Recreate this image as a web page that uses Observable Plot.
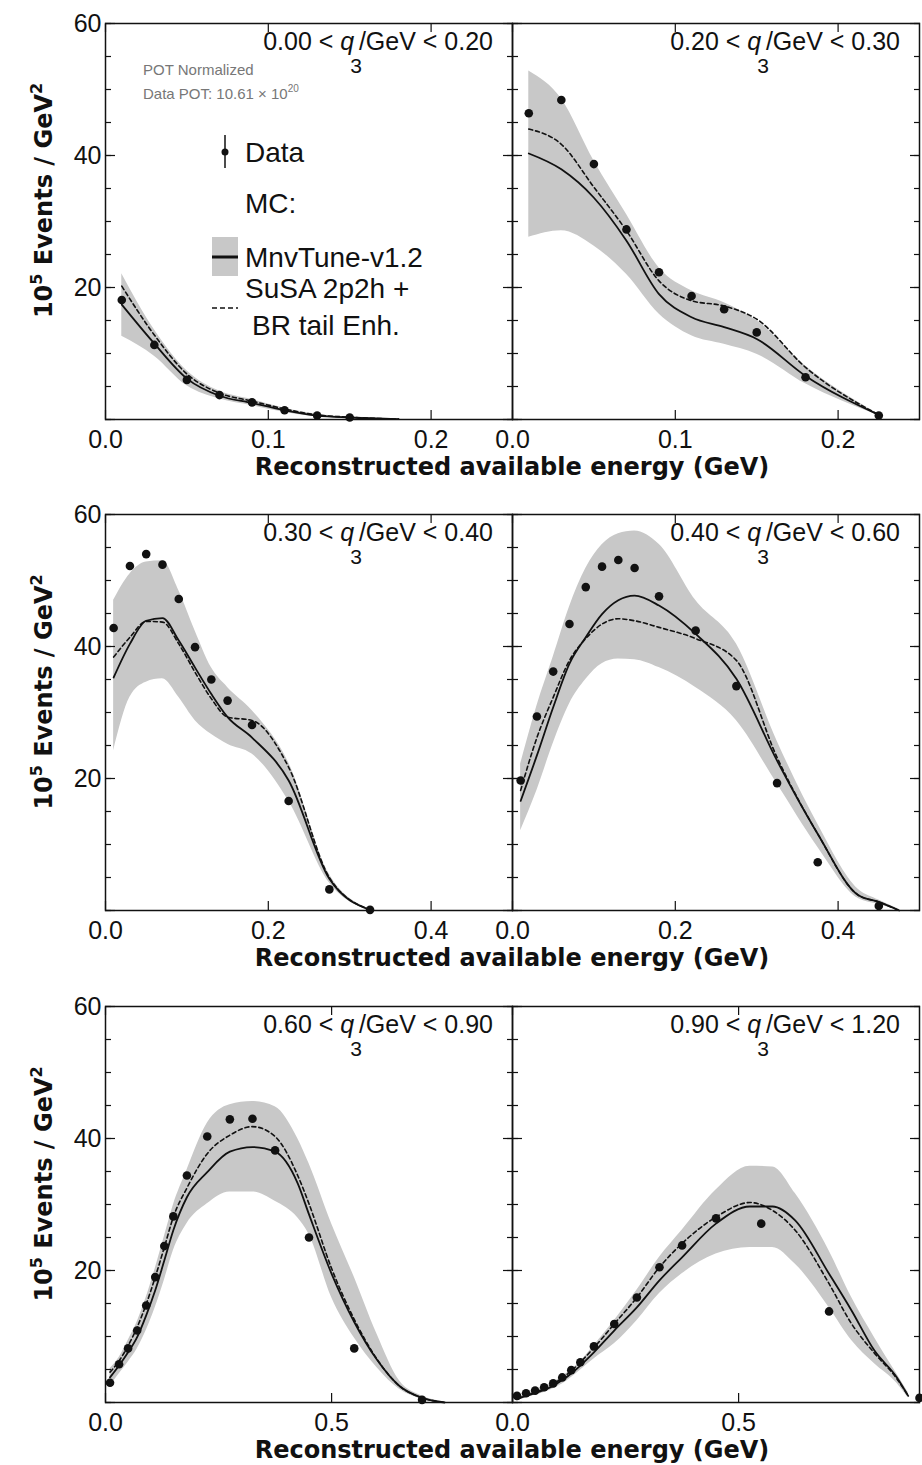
<!DOCTYPE html>
<html><head><meta charset="utf-8">
<script src="https://cdn.jsdelivr.net/npm/d3@7"></script>
<script src="https://cdn.jsdelivr.net/npm/@observablehq/plot@0.6"></script>
<style>
html,body{margin:0;padding:0;background:#fff;}
#chart{position:relative;width:922px;height:1465px;overflow:hidden;background:#fff;}
#chart svg{position:absolute;}
</style></head><body><div id="chart"></div>
<script>
// ---------- q3 bins ----------
const qLow  = ["0.00","0.20","0.30","0.40","0.60","0.90"];
const qHigh = ["0.20","0.30","0.40","0.60","0.90","1.20"];
const xMax  = [0.25, 0.25, 0.5, 0.5, 0.9, 0.9];
const xTickRow = [[0, 0.1, 0.2], [0, 0.2, 0.4], [0, 0.5]];
const yMinorTicks = [0,5,10,15,20,25,30,35,40,45,50,55,60];
const yMajorTicks = [0,20,40,60];
const yLabelTicks = [20,40,60];

// ---------- panel 1: 0.00 < q3 < 0.20 ----------
const p1DataX = [0.01,0.03,0.05,0.07,0.09,0.11,0.13,0.15];
const p1Data  = [18.1,11.3,6.0,3.7,2.6,1.4,0.6,0.3];
const p1McX   = [0.01,0.03,0.05,0.07,0.09,0.11,0.13,0.15,0.18];
const p1Mc    = [17.4,11.5,6.2,3.6,2.5,1.4,0.6,0.3,0.05];
const p1Susa  = [20.2,12.8,6.9,4.0,2.8,1.6,0.7,0.35,0.05];
const p1Hi    = [22.1,13.6,7.4,4.3,3.0,1.7,0.8,0.4,0.1];
const p1Lo    = [12.6,9.6,5.1,3.1,2.1,1.1,0.4,0.2,0.0];

// ---------- panel 2: 0.20 < q3 < 0.30 ----------
const p2DataX = [0.01,0.03,0.05,0.07,0.09,0.11,0.13,0.15,0.18,0.225];
const p2Data  = [46.4,48.4,38.7,28.8,22.3,18.7,16.7,13.2,6.4,0.6];
const p2McX   = [0.01,0.03,0.05,0.07,0.09,0.11,0.13,0.15,0.18,0.225];
const p2Mc    = [40.3,37.9,33.6,27.1,19.0,15.5,14.0,12.2,6.6,0.7];
const p2Susa  = [44.0,41.7,35.2,28.6,21.0,18.0,17.2,15.2,7.9,0.7];
const p2Hi    = [52.8,48.6,39.2,31.1,23.0,19.5,17.7,15.0,8.1,0.8];
const p2Lo    = [27.6,28.6,26.3,22.0,16.0,12.7,11.4,9.9,5.4,0.6];

// ---------- panel 3: 0.30 < q3 < 0.40 ----------
const p3DataX = [0.01,0.03,0.05,0.07,0.09,0.11,0.13,0.15,0.18,0.225,0.275,0.325];
const p3Data  = [42.8,52.2,54.0,52.4,47.2,39.9,35.0,31.8,28.1,16.6,3.2,0.1];
const p3McX   = [0.01,0.03,0.05,0.07,0.09,0.11,0.13,0.15,0.18,0.225,0.275,0.325];
const p3Mc    = [35.3,40.4,43.9,44.3,40.9,36.8,32.8,29.3,26.2,19.7,4.8,0.1];
const p3Susa  = [38.4,41.4,43.8,43.7,40.4,36.1,32.1,29.3,28.8,21.7,5.0,0.1];
const p3Hi    = [47.0,51.0,52.8,53.0,48.5,42.4,36.8,33.8,30.3,22.4,5.5,0.2];
const p3Lo    = [24.2,32.3,34.6,35.1,32.3,28.8,26.7,25.2,23.7,16.6,4.2,0.0];

// ---------- panel 4: 0.40 < q3 < 0.60 ----------
const p4DataX = [0.01,0.03,0.05,0.07,0.09,0.11,0.13,0.15,0.18,0.225,0.275,0.325,0.375,0.45];
const p4Data  = [19.7,29.4,36.2,43.4,49.0,52.1,53.1,51.9,47.6,42.4,34.0,19.3,7.3,0.7];
const p4McX   = [0.01,0.03,0.05,0.07,0.09,0.11,0.13,0.15,0.18,0.225,0.275,0.325,0.375,0.425,0.45,0.475];
const p4Mc    = [16.6,23.5,30.8,37.4,41.4,44.9,47.0,47.7,46.2,41.9,35.1,22.7,11.6,2.3,1.3,0.0];
const p4Susa  = [18.2,26.2,32.3,37.9,41.2,43.4,44.2,43.9,42.9,41.2,37.9,23.2,11.6,2.3,1.3,0.0];
const p4Hi    = [22.2,31.0,38.4,46.0,51.8,55.4,57.1,57.5,55.5,47.0,40.4,25.7,13.1,3.2,1.6,0.2];
const p4Lo    = [12.1,18.2,25.3,31.3,35.0,37.4,38.1,38.0,36.8,33.8,28.8,19.2,9.6,1.8,0.9,0.0];

// ---------- panel 5: 0.60 < q3 < 0.90 ----------
const p5DataX = [0.01,0.03,0.05,0.07,0.09,0.11,0.13,0.15,0.18,0.225,0.275,0.325,0.375,0.45,0.55,0.7];
const p5Data  = [3.0,5.8,8.2,10.9,14.7,19.0,23.7,28.2,34.4,40.3,42.9,43.0,38.2,25.0,8.2,0.4];
const p5McX   = [0.01,0.03,0.05,0.07,0.09,0.11,0.13,0.15,0.18,0.225,0.275,0.325,0.375,0.425,0.45,0.5,0.55,0.6,0.65,0.7,0.75];
const p5Mc    = [3.8,5.6,7.6,9.9,13.2,17.0,21.5,26.1,31.1,34.9,38.0,38.7,38.0,33.2,28.5,19.5,12.2,6.5,2.5,0.7,0.0];
const p5Susa  = [4.6,6.3,8.6,11.4,14.9,19.0,23.5,28.1,32.5,37.7,40.5,41.8,40.3,34.4,30.1,20.3,12.6,6.6,2.5,0.7,0.0];
const p5Hi    = [5.1,6.8,9.4,12.2,15.9,20.3,25.1,29.9,35.2,42.3,45.1,45.6,44.8,40.0,36.2,27.1,19.0,10.4,3.3,1.0,0.1];
const p5Lo    = [2.5,4.3,6.1,8.1,10.9,14.4,18.5,23.0,27.1,30.1,31.9,31.9,30.5,28.0,25.5,15.9,9.8,5.3,2.0,0.5,0.0];

// ---------- panel 6: 0.90 < q3 < 1.20 ----------
const p6DataX = [0.01,0.03,0.05,0.07,0.09,0.11,0.13,0.15,0.18,0.225,0.275,0.325,0.375,0.45,0.55,0.7,0.9];
const p6Data  = [1.0,1.4,1.8,2.3,2.9,3.8,4.9,6.1,8.5,11.9,15.9,20.5,23.8,27.9,27.1,13.8,0.7];
const p6McX   = [0.01,0.03,0.05,0.07,0.09,0.11,0.13,0.15,0.18,0.225,0.275,0.325,0.375,0.45,0.525,0.575,0.625,0.7,0.75,0.8,0.85,0.875];
const p6Mc    = [0.5,1.0,1.4,1.9,2.5,3.4,4.4,5.6,7.6,10.9,14.4,18.5,22.0,27.1,29.7,29.7,27.6,19.5,13.9,7.9,3.8,1.0];
const p6Susa  = [0.7,1.1,1.5,2.1,2.8,3.7,4.8,6.1,8.3,11.9,15.9,20.5,24.1,28.1,30.3,29.1,26.1,18.0,11.9,7.5,3.6,1.0];
const p6Hi    = [0.7,1.3,1.8,2.4,3.0,4.0,4.9,6.2,8.6,12.4,17.0,22.0,26.1,32.2,35.8,35.7,31.7,23.0,15.9,9.9,4.3,1.5];
const p6Lo    = [0.3,0.7,1.1,1.5,2.1,2.8,3.8,4.9,6.6,8.9,12.4,16.5,19.5,22.5,23.5,23.5,21.0,14.4,9.4,5.9,2.9,0.7];

const panels = [
  {dataX:p1DataX,data:p1Data,mcX:p1McX,mc:p1Mc,susa:p1Susa,hi:p1Hi,lo:p1Lo},
  {dataX:p2DataX,data:p2Data,mcX:p2McX,mc:p2Mc,susa:p2Susa,hi:p2Hi,lo:p2Lo},
  {dataX:p3DataX,data:p3Data,mcX:p3McX,mc:p3Mc,susa:p3Susa,hi:p3Hi,lo:p3Lo},
  {dataX:p4DataX,data:p4Data,mcX:p4McX,mc:p4Mc,susa:p4Susa,hi:p4Hi,lo:p4Lo},
  {dataX:p5DataX,data:p5Data,mcX:p5McX,mc:p5Mc,susa:p5Susa,hi:p5Hi,lo:p5Lo},
  {dataX:p6DataX,data:p6Data,mcX:p6McX,mc:p6Mc,susa:p6Susa,hi:p6Hi,lo:p6Lo}
];

// ---------- layout ----------
const BAND = "#c8c8c8";
const FW = 407, FH = 396;
const colLeft = [105, 512];
const rowTop = [22.5, 514, 1006];
const M = {l: 50, r: 20, t: 10, b: 45};
const FONT = "'Liberation Sans', Arial, Helvetica, sans-serif";
const BOLD = "'DejaVu Sans', Verdana, sans-serif";
const MINOR = 6, MAJOR = 10, XTICK = 9;
const CURVE = "monotone-x";

const chart = document.getElementById("chart");

panels.forEach((p, i) => {
  const col = i % 2, row = Math.floor(i / 2);
  const pts = p.dataX.map((x, k) => ({x, y: p.data[k]}));
  const mc = p.mcX.map((x, k) => ({x, mc: p.mc[k], susa: p.susa[k], lo: p.lo[k], hi: p.hi[k]}));
  const xt = xTickRow[row];
  const fig = Plot.plot({
    width: M.l + FW + M.r, height: M.t + FH + M.b,
    marginLeft: M.l, marginRight: M.r, marginTop: M.t, marginBottom: M.b,
    x: {domain: [0, xMax[i]]},
    y: {domain: [0, 60]},
    style: {background: "transparent", overflow: "visible", fontFamily: FONT, fontSize: "25px", color: "#111"},
    marks: [
      Plot.areaY(mc, {x: "x", y1: "lo", y2: "hi", fill: BAND, curve: CURVE}),
      Plot.lineY(mc, {x: "x", y: "mc", stroke: "#111", strokeWidth: 1.8, curve: CURVE}),
      Plot.lineY(mc, {x: "x", y: "susa", stroke: "#111", strokeWidth: 1.6, strokeDasharray: "4,3", curve: CURVE}),
      Plot.dot(pts, {x: "x", y: "y", r: 4.3, fill: "#111"}),
      Plot.frame({stroke: "#111", strokeWidth: 1.5}),
      // inward ticks: outward tick shifted inside by its own length
      Plot.axisY(yMinorTicks, {anchor: "left", tickSize: MINOR, dx: MINOR, fill: "none", label: null, strokeWidth: 1.2}),
      Plot.axisY(yMajorTicks, {anchor: "left", tickSize: MAJOR, dx: MAJOR, fill: "none", label: null, strokeWidth: 1.2}),
      Plot.axisY(yMinorTicks, {anchor: "right", tickSize: MINOR, dx: -MINOR, fill: "none", label: null, strokeWidth: 1.2}),
      Plot.axisY(yMajorTicks, {anchor: "right", tickSize: MAJOR, dx: -MAJOR, fill: "none", label: null, strokeWidth: 1.2}),
      Plot.axisX(xt, {anchor: "bottom", tickSize: XTICK, dy: -XTICK, fill: "none", label: null, strokeWidth: 1.2}),
      Plot.axisX(xt, {anchor: "top", tickSize: XTICK - 1, dy: XTICK - 1, fill: "none", label: null, strokeWidth: 1.2}),
      Plot.axisX(xt, {anchor: "bottom", tickSize: 0, tickPadding: 11, tickFormat: d3.format(".1f"), label: null}),
      col === 0 ? Plot.axisY(yLabelTicks, {anchor: "left", tickSize: 0, tickPadding: 4, label: null}) : null
    ]
  });
  fig.style.position = "absolute";
  fig.style.left = (colLeft[col] - M.l) + "px";
  fig.style.top = (rowTop[row] - M.t) + "px";
  chart.appendChild(fig);
});

// ---------- annotation overlay (titles, axis titles, legend) ----------
const ov = d3.create("svg").attr("width", 922).attr("height", 1465)
  .style("left", "0px").style("top", "0px").style("white-space", "pre")
  .style("font-family", FONT).attr("fill", "#111");

panels.forEach((p, i) => {
  const col = i % 2, row = Math.floor(i / 2);
  const t = ov.append("text").attr("x", colLeft[col] + FW - 19).attr("y", rowTop[row] + 27)
    .attr("text-anchor", "end").attr("font-size", 25);
  t.append("tspan").text(qLow[i] + " < ");
  t.append("tspan").attr("font-style", "italic").text("q");
  t.append("tspan").attr("font-size", 21).attr("dy", 23).attr("dx", -4).text("3");
  t.append("tspan").attr("dy", -23).attr("dx", -3).text("/GeV < " + qHigh[i]);
});

[0, 1, 2].forEach(r => {
  const y = ov.append("text").attr("transform", `translate(52,${rowTop[r] + 178}) rotate(-90)`)
    .attr("text-anchor", "middle").attr("font-family", BOLD).attr("font-weight", "bold").attr("font-size", 24);
  y.append("tspan").text("10");
  y.append("tspan").attr("font-size", 16).attr("dy", -10).text("5");
  y.append("tspan").attr("dy", 10).text(" Events / GeV");
  y.append("tspan").attr("font-size", 16).attr("dy", -10).text("2");

  ov.append("text").attr("x", 512).attr("y", rowTop[r] + FH + 56).attr("text-anchor", "middle")
    .attr("font-family", BOLD).attr("font-weight", "bold").attr("font-size", 24)
    .text("Reconstructed available energy (GeV)");
});

// POT note
ov.append("text").attr("x", 143).attr("y", 75).attr("font-size", 15).attr("fill", "#777").text("POT Normalized");
const pot = ov.append("text").attr("x", 143).attr("y", 99).attr("font-size", 15).attr("fill", "#777");
pot.append("tspan").text("Data POT: 10.61 \u00d7 10");
pot.append("tspan").attr("font-size", 10).attr("dy", -7).text("20");

// legend
const lg = ov.append("g");
lg.append("line").attr("x1", 225).attr("x2", 225).attr("y1", 135).attr("y2", 168).attr("stroke", "#111").attr("stroke-width", 1.5);
lg.append("circle").attr("cx", 225).attr("cy", 152).attr("r", 3.5).attr("fill", "#111");
lg.append("rect").attr("x", 212).attr("y", 237).attr("width", 26).attr("height", 39).attr("fill", BAND);
lg.append("line").attr("x1", 212).attr("x2", 238).attr("y1", 257).attr("y2", 257).attr("stroke", "#111").attr("stroke-width", 3);
lg.append("line").attr("x1", 212).attr("x2", 238).attr("y1", 308).attr("y2", 308).attr("stroke", "#111").attr("stroke-width", 1.5).attr("stroke-dasharray", "5,3");
const legTexts = [["Data", 245, 162], ["MC:", 245, 213], ["MnvTune-v1.2", 245, 267], ["SuSA 2p2h +", 245, 298], ["BR tail Enh.", 252, 335]];
legTexts.forEach(([s, x, y]) => lg.append("text").attr("x", x).attr("y", y).attr("font-size", 28).text(s));

chart.appendChild(ov.node());
</script></body></html>
